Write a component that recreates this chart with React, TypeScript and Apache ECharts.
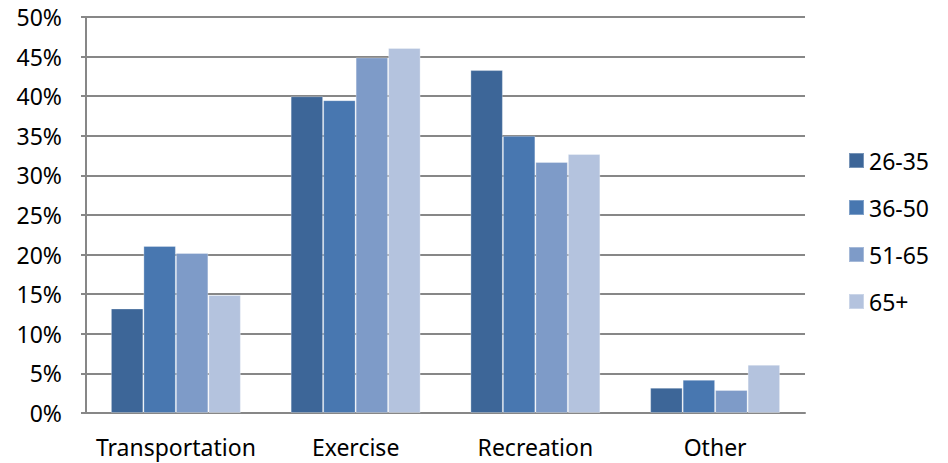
import React, { useEffect, useRef } from "react";
import * as echarts from "echarts";

const categories = ["Transportation", "Exercise", "Recreation", "Other"];
const seriesNames = ["26-35", "36-50", "51-65", "65+"];
const s2635 = [13.2, 40.0, 43.3, 3.2];
const s3650 = [21.1, 39.5, 35.0, 4.2];
const s5165 = [20.2, 44.9, 31.7, 2.9];
const s65p = [14.9, 46.1, 32.7, 6.1];
const colors = ["#3D6698", "#4877B0", "#7E9BC8", "#B4C3DE"];

const FONT = "'Noto Sans', 'Open Sans', sans-serif";

export default function App() {
  const ref = useRef<HTMLDivElement>(null);
  useEffect(() => {
    if (!ref.current) return;
    const chart = echarts.init(ref.current, null, { renderer: "svg" });
    const data = [s2635, s3650, s5165, s65p];
    chart.setOption({
      animation: false,
      backgroundColor: "#ffffff",
      textStyle: { fontFamily: FONT },
      grid: { left: 86, right: 143, top: 17, bottom: 50 },
      legend: {
        orient: "vertical",
        left: 843,
        top: 144,
        itemWidth: 15,
        itemHeight: 15,
        itemGap: 24,
        icon: "rect",
        data: seriesNames,
        textStyle: { fontFamily: FONT, fontSize: 23, color: "#000" },
      },
      xAxis: {
        type: "category",
        data: categories,
        axisLine: { show: true, lineStyle: { color: "#878787", width: 2 } },
        axisTick: { show: false },
        axisLabel: { interval: 0, fontFamily: FONT, fontSize: 23, color: "#000", margin: 22 },
      },
      yAxis: {
        type: "value",
        min: 0,
        max: 50,
        interval: 5,
        axisLine: { show: true, lineStyle: { color: "#878787", width: 2 } },
        axisTick: { show: true, length: 5, lineStyle: { color: "#878787", width: 2 } },
        splitLine: { show: true, lineStyle: { color: "#878787", width: 2 } },
        axisLabel: {
          formatter: (v: number) => v + "%",
          fontFamily: FONT,
          fontSize: 23,
          color: "#000",
          margin: 24,
        },
      },
      series: seriesNames.map((name, i) => ({
        name,
        type: "bar",
        data: data[i],
        barGap: "0%",
        barCategoryGap: "27.7%",
        itemStyle: {
          color: colors[i],
          borderColor: "rgba(255,255,255,0.3)",
          borderWidth: 1,
        },
      })),
    });
    return () => chart.dispose();
  }, []);
  return (
    <div
      ref={ref}
      style={{ position: "fixed", left: 0, top: 0, width: 948, height: 463 }}
    />
  );
}
